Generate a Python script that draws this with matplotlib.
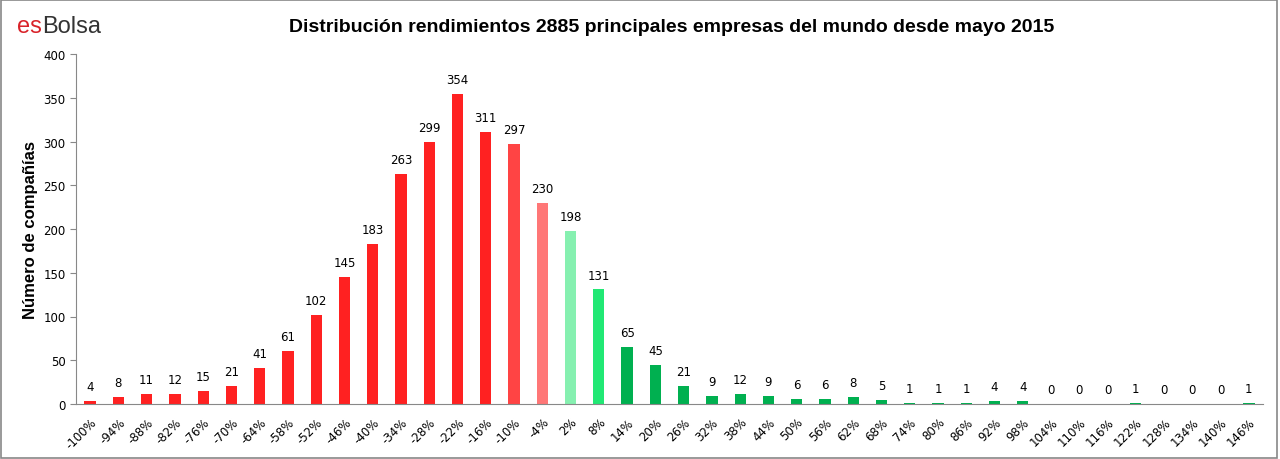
import numpy as np
import matplotlib
matplotlib.use("Agg")
import matplotlib.pyplot as plt
from matplotlib.patches import Rectangle

# Bins (% return) and number of companies per bin
bins = [-100, -94, -88, -82, -76, -70, -64, -58, -52, -46, -40, -34, -28, -22,
        -16, -10, -4, 2, 8, 14, 20, 26, 32, 38, 44, 50, 56, 62, 68, 74, 80, 86,
        92, 98, 104, 110, 116, 122, 128, 134, 140, 146]
counts = [4, 8, 11, 12, 15, 21, 41, 61, 102, 145, 183, 263, 299, 354,
          311, 297, 230, 198, 131, 65, 45, 21, 9, 12, 9, 6, 6, 8, 5, 1, 1, 1,
          4, 4, 0, 0, 0, 1, 0, 0, 0, 1]
tick_labels = [f"{b}%" for b in bins]


def bar_color(b):
    if b <= -16:
        return "#ff2121"
    if b == -10:
        return "#ff4444"
    if b == -4:
        return "#ff7777"
    if b == 2:
        return "#86f0b0"
    if b == 8:
        return "#21e874"
    return "#00b050"


fig = plt.figure(figsize=(12.8, 4.6), dpi=100)
ax = fig.add_axes([76 / 1280, 1 - 405 / 460, (1263 - 76) / 1280, (405 - 55) / 460])

x = np.arange(len(bins))
ax.bar(x, counts, width=0.4, color=[bar_color(b) for b in bins], zorder=2)

for xi, c in zip(x, counts):
    ax.text(xi, c + 9, str(c), ha="center", va="bottom", fontsize=8.5,
            family="DejaVu Sans", color="#000000")

ax.set_xlim(-0.5, len(bins) - 0.5)
ax.set_ylim(0, 400)
ax.set_yticks(range(0, 401, 50))
ax.tick_params(axis="y", labelsize=8.5, length=4, color="#888888", direction="out")
ax.set_xticks(x)
ax.set_xticklabels(tick_labels, rotation=45, ha="right", rotation_mode="anchor",
                   fontsize=8.5)
ax.tick_params(axis="x", length=0, pad=8)

for side in ["top", "right"]:
    ax.spines[side].set_visible(False)
for side in ["left", "bottom"]:
    ax.spines[side].set_color("#888888")

ax.set_ylabel("Número de compañías", fontsize=12, fontweight="bold",
              family="Liberation Sans", labelpad=4)

fig.text(0.525, 1 - 28 / 460, "Distribución rendimientos 2885 principales empresas del mundo desde mayo 2015",
         ha="center", va="center", fontsize=14, fontweight="bold", family="Liberation Sans")

# logo
t1 = fig.text(17 / 1280, 1 - 27 / 460, "es", ha="left", va="center", fontsize=17,
              family="Liberation Sans", color="#d9232a")
fig.canvas.draw()
bb = t1.get_window_extent()
fig.text(bb.x1 / 1280, 1 - 27 / 460, "Bolsa", ha="left", va="center", fontsize=17,
         family="Liberation Sans", color="#333333")

# grey frame round the picture
fig.patches.append(Rectangle((0.001, 0.002), 0.997, 0.996, transform=fig.transFigure,
                             fill=False, edgecolor="#888888", linewidth=1.2))

fig.savefig("out.png", dpi=100)
